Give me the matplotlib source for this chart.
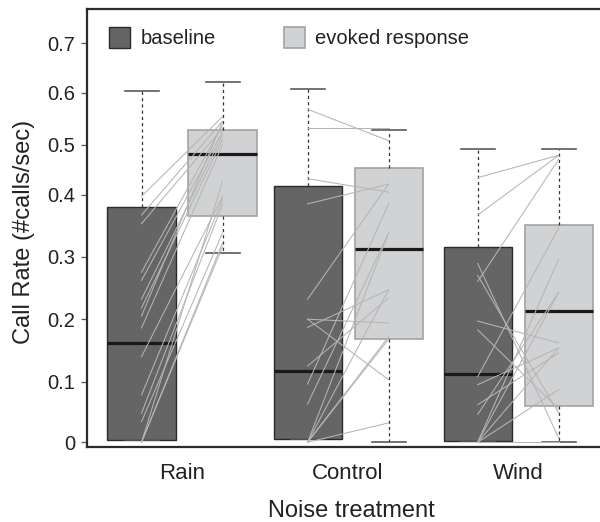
import numpy as np
import matplotlib
matplotlib.use("Agg")
import matplotlib.pyplot as plt
from matplotlib.patches import Patch
from matplotlib.ticker import FuncFormatter

plt.rcParams['font.family'] = ['Liberation Sans', 'DejaVu Sans']

treatments = ["Rain", "Control", "Wind"]

# box summaries (Rain, Control, Wind)
base_lo = [0.004, 0.006, 0.002]
base_q1 = [0.004, 0.006, 0.002]
base_med = [0.162, 0.117, 0.113]
base_q3 = [0.380, 0.417, 0.316]
base_hi = [0.604, 0.607, 0.491]

evok_lo = [0.305, 0.000, 0.000]
evok_q1 = [0.366, 0.168, 0.060]
evok_med = [0.481, 0.312, 0.213]
evok_q3 = [0.529, 0.453, 0.351]
evok_hi = [0.621, 0.529, 0.491]

# individual frogs: baseline -> evoked call rate
rain_base = [0.397, 0.367, 0.353, 0.275, 0.262, 0.232, 0.218, 0.205, 0.186, 0.140, 0.078, 0.048, 0.034, 0.0, 0.0, 0.0]
rain_evok = [0.554, 0.545, 0.532, 0.538, 0.525, 0.519, 0.510, 0.545, 0.500, 0.397, 0.392, 0.384, 0.338, 0.426, 0.322, 0.316]
ctrl_base = [0.568, 0.533, 0.432, 0.385, 0.232, 0.200, 0.200, 0.187, 0.125, 0.096, 0.063, 0.0, 0.0, 0.0, 0.0, 0.0]
ctrl_evok = [0.508, 0.533, 0.405, 0.421, 0.421, 0.194, 0.103, 0.247, 0.234, 0.385, 0.338, 0.338, 0.247, 0.168, 0.172, 0.032]
wind_base = [0.434, 0.367, 0.289, 0.270, 0.260, 0.197, 0.183, 0.108, 0.095, 0.062, 0.046, 0.0, 0.0, 0.0, 0.0, 0.0]
wind_evok = [0.479, 0.479, 0.007, 0.048, 0.471, 0.162, 0.055, 0.346, 0.154, 0.146, 0.243, 0.296, 0.243, 0.087, 0.154, 0.0]

pairs_base = [rain_base, ctrl_base, wind_base]
pairs_evok = [rain_evok, ctrl_evok, wind_evok]

# layout
base_pos = [1.0, 3.05, 5.15]
evok_pos = [2.0, 4.05, 6.15]
box_w = 0.84

# y axis in the original is not evenly spaced: calibrate value -> position
knot_vals = np.array([-0.1, 0, 0.1, 0.2, 0.3, 0.4, 0.5, 0.6, 0.7, 0.8])
knot_pos = np.array([-2.9, 57.7, 118.3, 180.7, 243.3, 305.3, 355.0, 407.3, 456.7, 506.1])


def fwd(v):
    v = np.asarray(v, dtype=float)
    return np.interp(v.ravel(), knot_vals, knot_pos).reshape(v.shape)


def inv(p):
    p = np.asarray(p, dtype=float)
    return np.interp(p.ravel(), knot_pos, knot_vals).reshape(p.shape)


fig = plt.figure(figsize=(6, 5.22), dpi=100)
ax = fig.add_axes([87 / 600, 75 / 522, 516 / 600, 438 / 522])
ax.set_yscale('function', functions=(fwd, inv))

dark = '#656565'
light = '#d1d2d4'


def stats(lo, q1, med, q3, hi):
    return [dict(whislo=a, q1=b, med=c, q3=d, whishi=e, fliers=[])
            for a, b, c, d, e in zip(lo, q1, med, q3, hi)]


ax.bxp(stats(base_lo, base_q1, base_med, base_q3, base_hi), positions=base_pos,
       widths=box_w, patch_artist=True, showfliers=False,
       boxprops=dict(facecolor=dark, edgecolor='#2a2a2a', lw=1),
       medianprops=dict(color='#1a1a1a', lw=2.3, solid_capstyle='butt'),
       whiskerprops=dict(color='#333333', lw=0.9, linestyle=(0, (2.5, 2.5))),
       capprops=dict(color='#5a5a5a', lw=1.2))
ax.bxp(stats(evok_lo, evok_q1, evok_med, evok_q3, evok_hi), positions=evok_pos,
       widths=box_w, patch_artist=True, showfliers=False,
       boxprops=dict(facecolor=light, edgecolor='#a3a3a3', lw=1.2),
       medianprops=dict(color='#1a1a1a', lw=2.3, solid_capstyle='butt'),
       whiskerprops=dict(color='#333333', lw=0.9, linestyle=(0, (2.5, 2.5))),
       capprops=dict(color='#5a5a5a', lw=1.2))

# paired lines per individual
for i in range(3):
    b = np.array(pairs_base[i])
    e = np.array(pairs_evok[i])
    xs = np.vstack([np.full(len(b), base_pos[i]), np.full(len(e), evok_pos[i])])
    ax.plot(xs, np.vstack([b, e]), color='#b5b5b5', lw=0.75, zorder=5)

ax.set_xlim(0.327, 6.697)
ax.set_ylim(-0.0078, 0.769)
ax.set_yticks(np.arange(0, 0.71, 0.1))
ax.yaxis.set_major_formatter(FuncFormatter(lambda v, p: '0' if abs(v) < 1e-9 else f'{v:.1f}'))
ax.set_xticks([(a + b) / 2 for a, b in zip(base_pos, evok_pos)])
ax.set_xticklabels(treatments)

ax.tick_params(axis='y', direction='out', length=4.3, width=0.9, color='#555555',
               labelsize=14.5, pad=4, labelcolor='#222222')
ax.tick_params(axis='x', length=0, labelsize=16, pad=11.5, labelcolor='#222222')
for s in ax.spines.values():
    s.set_linewidth(1.6)
    s.set_color('#2b2b2b')

ax.set_ylabel('Call Rate (#calls/sec)', fontsize=17, color='#222222')
ax.yaxis.set_label_coords(-0.1008, 0.49)
ax.set_xlabel('Noise treatment', fontsize=17, color='#222222')
ax.xaxis.set_label_coords(0.512, -0.12)

handles = [Patch(facecolor=dark, edgecolor='#2a2a2a', lw=1, label='baseline'),
           Patch(facecolor=light, edgecolor='#a3a3a3', lw=1.2, label='evoked response')]
ax.legend(handles=handles, loc='upper left', bbox_to_anchor=(0.043, 0.959), ncol=2,
          frameon=False, fontsize=14.5, handlelength=1.05, handleheight=1.2,
          handletextpad=0.5, columnspacing=3.4, borderpad=0, borderaxespad=0,
          labelcolor='#222222')

fig.savefig('out.png', dpi=100)
